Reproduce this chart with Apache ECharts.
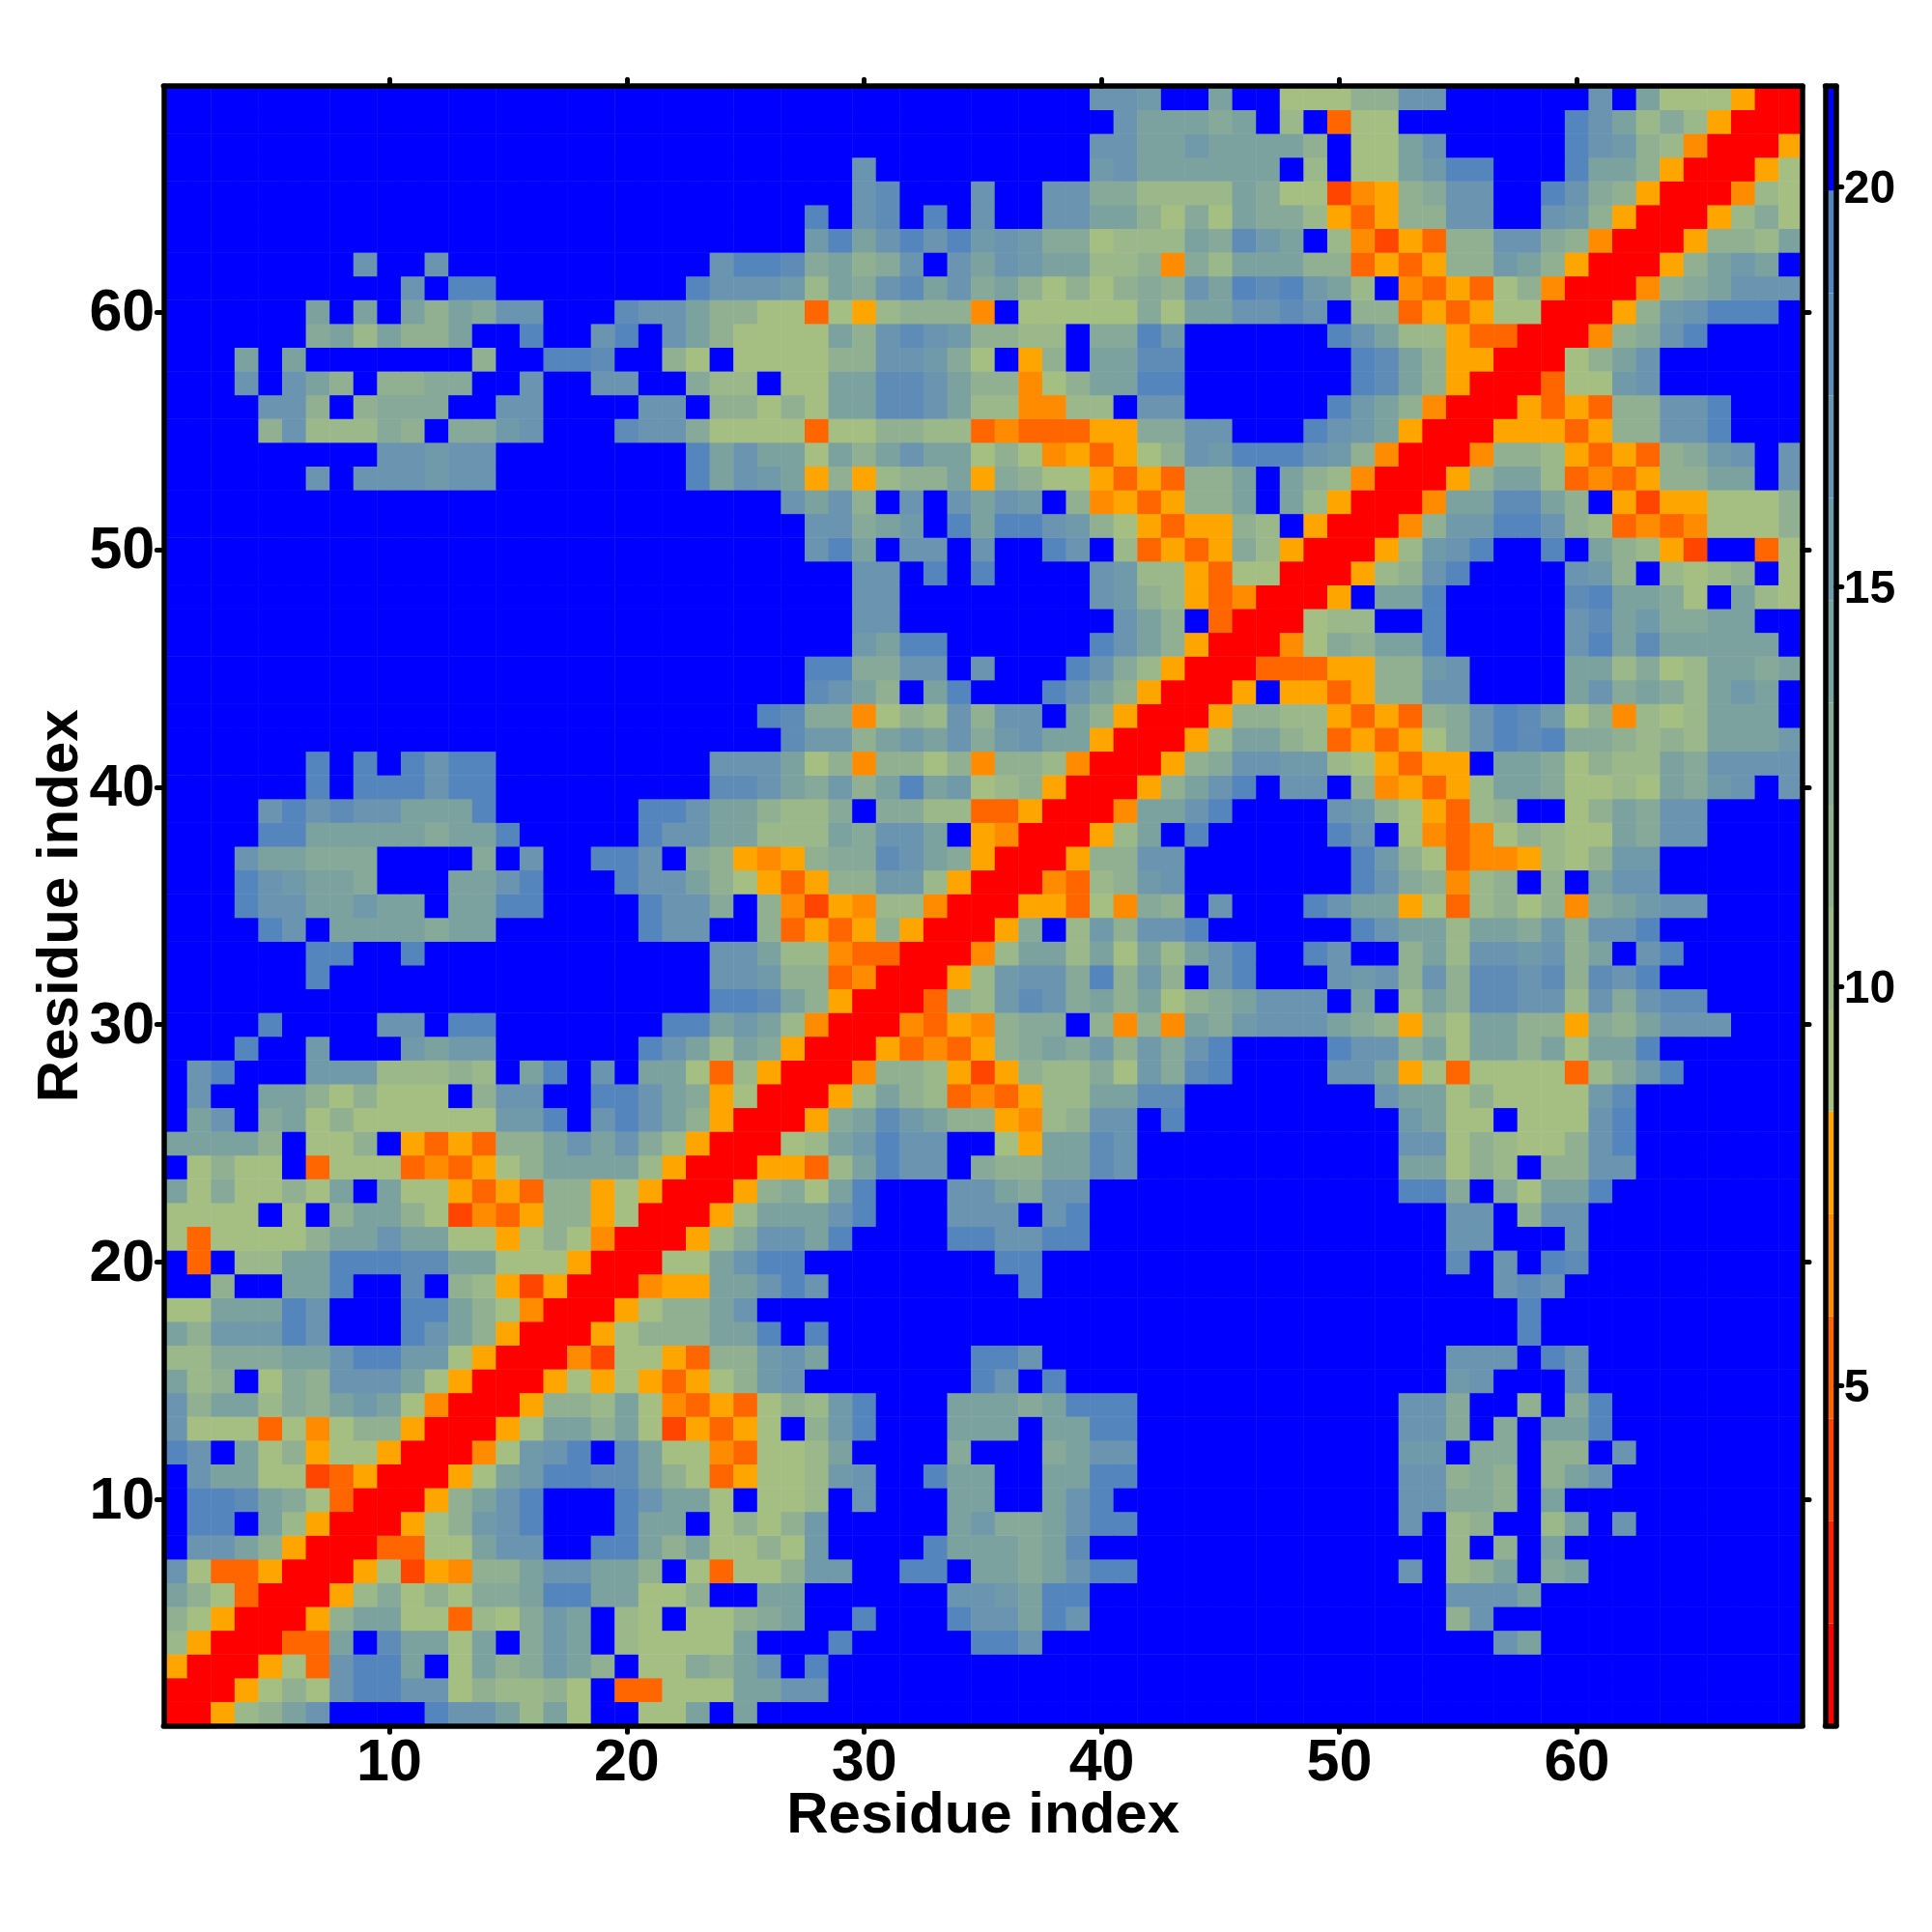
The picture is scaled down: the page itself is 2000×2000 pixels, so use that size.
<!DOCTYPE html>
<html>
<head>
<meta charset="utf-8">
<style>html,body{margin:0;padding:0;background:#fff}#c{width:2000px;height:2000px}</style>
<script src="https://cdn.jsdelivr.net/npm/echarts@6/dist/echarts.min.js"></script>
</head>
<body>
<div id="c"></div>
<script>
// Colour levels: one code per band of the colour bar, low to high.
const levelCodes = ["R","y","x","D","O","A","a","f","b","g","c","h","d","i","e","B"];
const bandLows  = [0.75,2.03,3.31,4.59,5.87,7.15,8.43,9.71,10.99,12.27,13.55,14.83,16.11,17.39,18.67,19.95];
const bandHighs = [2.03,3.31,4.59,5.87,7.15,8.43,9.71,10.99,12.27,13.55,14.83,16.11,17.39,18.67,19.95,21.26];
const bandColors = ["#ff0000","#ff2200","#ff4500","#ff6600","#ff8c00","#ffa500","#a5bf82","#9bb88a","#91b091","#86a999","#7ca2a0","#7099a9","#6a94b0","#5f8cb7","#5585bd","#0000ff"];
const residues = Array.from({length:69},(_,i)=>String(i+1));
const colorbarTicks = [5,10,15,20];
// Distance map rows: row r holds residues 1..r, the matrix is symmetric.
const B = n => "B".repeat(n);
const distanceRows = [
"R",
"RR",
"ARR",
"fARR",
"baARR",
"cbaDRR",
"daDDARR",
"BddcbARR",
"BeeBcfARR",
"BeeicgaDRR",
"BdccaaxDARR",
"edBcabAaaARR",
"daaaDaOabbARR",
"dbccfgbchcaORR",
"cfbBagbdddcaARR",
"ffgggccdeehhaARR",
"cbhhhedBBBedcbARR",
"aacccedBBBeecbaORR",
"BBbBBcceBBiBbfAxARR",
"BDBffcceeeiiccaaaARR",
"aDaaaabccdccaaAabaORR",
"aaaaBaBbccbaxODAbbAaRR",
"cagaabacBcaaADADbbAaARR",
"BabaaBDaaaDODAabccccfARR",
"ccccbBaabBADADbbcdcdgfARR",
"BcdBgcabaaaaaahheBdedcbARR",
"BdBBccbabaaaBbddBBeedcgAaRR",
"BdeBBBhhhfffbfBceBdBccaDfARR",
"BBBeBBhBBBhchhBBBBBBedcfcgARR",
"BBBBeBBBBddBeeBBBBBBBeechcfORR",
B(23)+"eeicbARR",
B(6)+"e"+B(16)+"ddhbbDORR",
B(6)+"eeBBe"+B(12)+"ddcffODDRR",
"BBBBedBccccgcc"+B(6)+"eddBBbDADAbARR",
"BBBeddcchccBcceeBBBBeddgBbOxAOffORR",
"BBBedhccgBBBccdeBBBeddcbaADAbbhhfARR",
"BBBdccgggBBBBgBdBBeedBgbAOAbggidcgARR",
"BBBBeecccccgcce"+B(5)+"eddccfffcgddcBAORR",
"BBBBdediddccce"+B(6)+"eedccbffgBggffDDARR",
"BBBBBBeBeeedee"+B(9)+"iidcghbcechafbARR",
"BBBBBBeBeBedee"+B(9)+"dddcabObbabObbfORR",
B(26)+"ihhbchcdghdccARR",
B(25)+"eiggOabfdbddBcbARR",
B(27)+"idcbBceBBBedcbARR",
B(27)+"eeggddBdBBBedgfARR",
B(29)+"hceeBBBBBBedcbARR",
B(29)+"dd"+B(9)+"dcbBDRR",
B(29)+"dd"+B(8)+"dhbfADORR",
B(29)+"ddBeBeBBBBdhffADaaRR",
B(27)+"decBddBdBBedBfDADAgfARR",
B(27)+"ddgchBeceedhbaADAAbfBARR",
B(26)+"dcdbBdBdcdhBbOADAbbcBcfARR",
"BBBBBBdBdddhdd"+B(8)+"ecdhcAbAfbbcAgbaaADADbbcBcbfORR",
B(9)+"ddhdd"+B(8)+"ecdccacbcdccabaOADAabdheeedhbORR",
"BBBBbdfffgbBgghdBBBiddgaaaaDaabbffDODDDAAggddBBBedhcARR",
"BBBBddbBbgggBBddBBBBddBbbabacciidcffOOffBdd"+B(6)+"ehcbORR",
"BBBdBdcbBbbggBBdBBddBBgffBaacciidcbbOabccee"+B(7)+"eicbARR",
"BBBcBc"+B(7)+"bBBeeiBBbaBaaaabbddhgaBAbBcciiBBBBBBBeicbAARR",
"BBBBBBgcfcbbcBBeBBdeBdcbaaaacbdidhbbffBggeh"+B(6)+"edcffADDRR",
"BBBBBBcBcBcbcgddBBBiddcbbaaDaAfbbbOBaaaaagaccddidBbbDADAaaRR",
B(10)+"dBee"+B(8)+"edddhfcgdicdgcbababgbdceiehcfBODADabORR",
B(8)+"dBBd"+B(11)+"deeigcbgdBdcdhccffbOgfcccbbDADAbbhcbARR",
B(27)+"hecdedehdhggafffcgihcBfOxADbbddgbORR",
B(27)+"eBdiBeBdBBddccbagacggfADAbbddBBdhbARR",
B(29)+"diBBBdBBddggffffcgaaxOAbgddBBedgbARR",
B(29)+"d"+B(9)+"hdcccccc"+"BfBaachee"+"BBBeccbARR",
B(39)+"ddcchccccbBaacd"+B(5)+"edhbfORR",
B(40)+"dcccgcBfBDaa"+B(7)+"edcfgfARR",
B(39)+"ddhBBcBBaaabbdd"+B(6)+"dBcaaaARR"
];

const levelValue = code => {
  const k = levelCodes.indexOf(code);
  return (bandLows[k] + bandHighs[k]) / 2;
};
const heatData = [];
for (let r = 0; r < 69; r++) {
  for (let c = 0; c <= r; c++) {
    const v = levelValue(distanceRows[r][c]);
    heatData.push([c, r, v]);
    if (c !== r) heatData.push([r, c, v]);
  }
}
const bandData = bandColors.map((_, i) => [bandLows[i], bandHighs[i], i]);
const pieces = bandColors.map((color, i) => ({min: bandLows[i], max: bandHighs[i], color}));

const FONT = '"Liberation Sans", Arial, sans-serif';
const decade = (i, v) => Number(v) % 10 === 0;
const line = {show: true, onZero: false, lineStyle: {color: '#000', width: 5.5, cap: 'round'}};
const tick = {show: true, interval: decade, alignWithLabel: true, length: 7, inside: false, lineStyle: {color: '#000', width: 5, cap: 'round'}};
const catAxis = (gridIndex, position, labelStyle, name, gap) => ({
  type: 'category', gridIndex, position, data: residues, z: 10,
  boundaryGap: true, axisLine: line, axisTick: tick, splitLine: {show: false}, splitArea: {show: false},
  axisLabel: labelStyle ? Object.assign({show: true, interval: decade, fontFamily: FONT, fontWeight: 'bold', fontSize: 61, color: '#000', margin: 9}, labelStyle) : {show: false},
  name, nameLocation: 'middle', nameGap: gap, nameMoveOverlap: false,
  nameTextStyle: {fontFamily: FONT, fontWeight: 'bold', fontSize: 60, color: '#000'}
});
const barFrameX = (position) => ({
  type: 'value', gridIndex: 1, position, min: 0, max: 1, z: 10, axisLine: line,
  axisTick: {show: false}, axisLabel: {show: false}, splitLine: {show: false}
});

const chart = echarts.init(document.getElementById('c'), null, {renderer: 'canvas'});
chart.setOption({
  animation: false,
  backgroundColor: '#fff',
  grid: [
    {left: 169.3, width: 1696.7, top: 89.2, height: 1697.1},
    {left: 1889.5, width: 11.3, top: 89.2, height: 1697.1}
  ],
  xAxis: [
    catAxis(0, 'bottom', {}, 'Residue index', 64),
    catAxis(0, 'top'),
    barFrameX('bottom'),
    barFrameX('top')
  ],
  yAxis: [
    catAxis(0, 'left', {verticalAlign: 'top', padding: [-28, 0, 0, 0]}, 'Residue index', 76),
    catAxis(0, 'right'),
    {
      type: 'value', gridIndex: 1, position: 'right', min: 0.75, max: 21.26, z: 10, axisLine: line,
      axisTick: {show: true, length: 6, customValues: colorbarTicks, lineStyle: {color: '#000', width: 5, cap: 'round'}},
      axisLabel: {show: true, customValues: colorbarTicks, fontFamily: FONT, fontWeight: 'bold', fontSize: 48, color: '#000', margin: 8, verticalAlign: 'top', padding: [-20.5, 0, 0, 0]},
      splitLine: {show: false}
    },
    {
      type: 'value', gridIndex: 1, position: 'left', min: 0.75, max: 21.26, z: 10, axisLine: line,
      axisTick: {show: false}, axisLabel: {show: false}, splitLine: {show: false}
    }
  ],
  visualMap: {type: 'piecewise', show: false, seriesIndex: 0, dimension: 2, pieces},
  series: [
    {
      type: 'heatmap', xAxisIndex: 0, yAxisIndex: 0, data: heatData, z: 2, silent: true,
      itemStyle: {borderWidth: 0}, progressive: 0
    },
    {
      type: 'custom', xAxisIndex: 2, yAxisIndex: 2, data: bandData, z: 2, silent: true, clip: false,
      renderItem(params, api) {
        const p0 = api.coord([0, api.value(1)]);
        const p1 = api.coord([1, api.value(0)]);
        return {type: 'rect', shape: {x: p0[0], y: p0[1], width: p1[0] - p0[0], height: p1[1] - p0[1]},
                style: {fill: bandColors[api.value(2)]}};
      }
    }
  ]
});
</script>
</body>
</html>
